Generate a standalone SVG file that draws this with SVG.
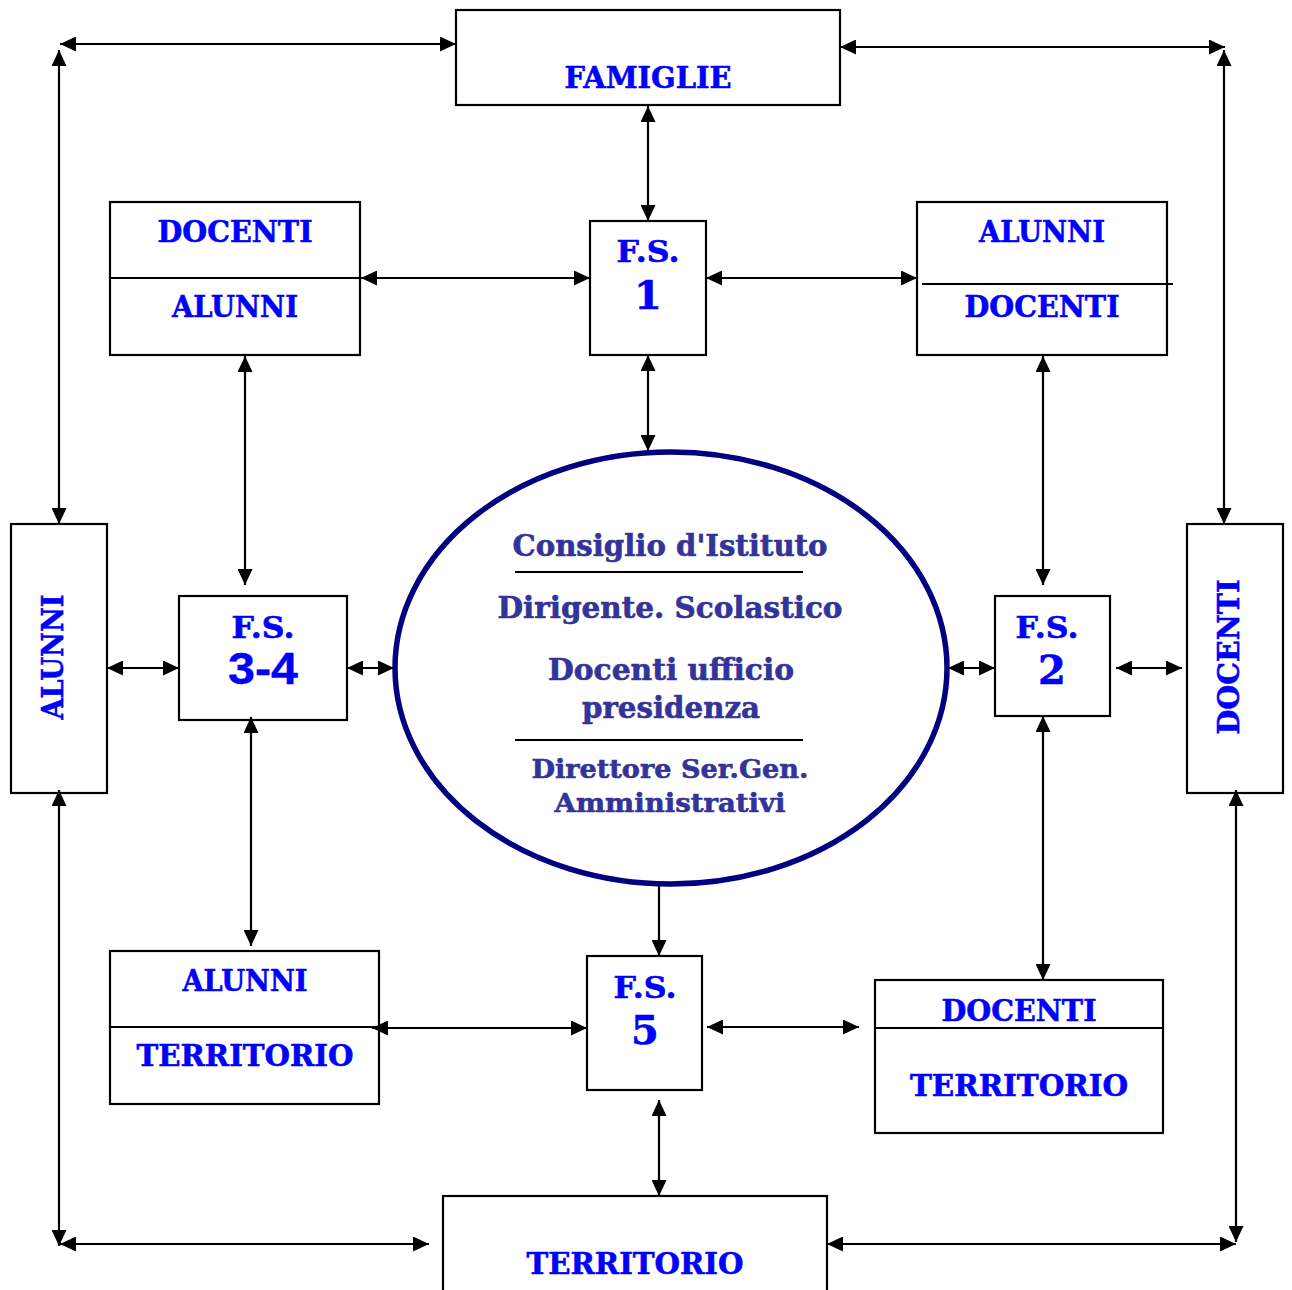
<svg xmlns="http://www.w3.org/2000/svg" width="1292" height="1290" viewBox="0 0 1292 1290">
<style>
.box{fill:#fff;stroke:#000;stroke-width:2.2}
.div{stroke:#000;stroke-width:2.2}
.t{font-family:"DejaVu Serif","Liberation Serif",serif;font-weight:bold;font-size:30px;fill:#0000ff;stroke:#0000ff;stroke-width:0.6;text-anchor:middle}
.num{font-size:40px}
.sans{font-family:"Liberation Sans",Arial,sans-serif;font-size:45px;stroke-width:0.4}
.e{font-family:"DejaVu Serif","Liberation Serif",serif;font-weight:bold;font-size:29px;fill:#333399;stroke:#333399;stroke-width:0.6;text-anchor:middle}
.es{font-size:26px}
.c line{stroke:#000;stroke-width:2.2;marker-end:url(#ah)}
.c line.b{marker-start:url(#ah)}
</style>
<defs>
<marker id="ah" viewBox="0 0 16 15" refX="16" refY="7.5" markerWidth="16" markerHeight="15" markerUnits="userSpaceOnUse" orient="auto-start-reverse">
<path d="M0,0 L16,7.5 L0,15 z" fill="#000"/>
</marker>
</defs>
<rect width="1292" height="1290" fill="#fff"/>

<g id="famiglie">
<rect class="box" x="456" y="10" width="384" height="95"/>
<text class="t" x="648" y="88" textLength="167" lengthAdjust="spacingAndGlyphs">FAMIGLIE</text>
</g>

<g id="docenti-alunni-tl">
<rect class="box" x="110" y="202" width="250" height="153"/>
<line class="div" x1="110" y1="278" x2="360" y2="278"/>
<text class="t" x="235" y="242" textLength="155" lengthAdjust="spacingAndGlyphs">DOCENTI</text>
<text class="t" x="235" y="317" textLength="126" lengthAdjust="spacingAndGlyphs">ALUNNI</text>
</g>

<g id="fs1">
<rect class="box" x="590" y="221" width="116" height="134"/>
<text class="t" x="648" y="262" textLength="63" lengthAdjust="spacingAndGlyphs">F.S.</text>
<text class="t num" x="648" y="309">1</text>
</g>

<g id="alunni-docenti-tr">
<rect class="box" x="917" y="202" width="250" height="153"/>
<line class="div" x1="922" y1="284" x2="1173" y2="284"/>
<text class="t" x="1042" y="242" textLength="126" lengthAdjust="spacingAndGlyphs">ALUNNI</text>
<text class="t" x="1042" y="317" textLength="155" lengthAdjust="spacingAndGlyphs">DOCENTI</text>
</g>

<g id="alunni-v">
<rect class="box" x="11" y="524" width="96" height="269"/>
<text class="t" transform="translate(63,657) rotate(-90)" x="0" y="0" textLength="125" lengthAdjust="spacingAndGlyphs">ALUNNI</text>
</g>

<g id="fs34">
<rect class="box" x="179" y="596" width="168" height="124"/>
<text class="t" x="263" y="638" textLength="63" lengthAdjust="spacingAndGlyphs">F.S.</text>
<text class="t sans" x="263" y="684" textLength="70" lengthAdjust="spacingAndGlyphs">3-4</text>
</g>

<g id="centro">
<ellipse cx="671" cy="668" rx="276" ry="216" fill="#fff" stroke="#000080" stroke-width="5.5"/>
<text class="e" x="670" y="556" textLength="315" lengthAdjust="spacingAndGlyphs">Consiglio d'Istituto</text>
<line class="div" x1="515" y1="572" x2="803" y2="572"/>
<text class="e" x="670" y="618" textLength="345" lengthAdjust="spacingAndGlyphs">Dirigente. Scolastico</text>
<text class="e" x="671" y="680" textLength="246" lengthAdjust="spacingAndGlyphs">Docenti ufficio</text>
<text class="e" x="671" y="718" textLength="178" lengthAdjust="spacingAndGlyphs">presidenza</text>
<line class="div" x1="515" y1="740" x2="803" y2="740"/>
<text class="e es" x="670" y="778" textLength="277" lengthAdjust="spacingAndGlyphs">Direttore Ser.Gen.</text>
<text class="e es" x="670" y="812" textLength="231" lengthAdjust="spacingAndGlyphs">Amministrativi</text>
</g>

<g id="fs2">
<rect class="box" x="995" y="596" width="115" height="120"/>
<text class="t" x="1047" y="638" textLength="63" lengthAdjust="spacingAndGlyphs">F.S.</text>
<text class="t num" x="1052" y="684">2</text>
</g>

<g id="docenti-v">
<rect class="box" x="1187" y="524" width="96" height="269"/>
<text class="t" transform="translate(1239,657) rotate(-90)" x="0" y="0" textLength="155" lengthAdjust="spacingAndGlyphs">DOCENTI</text>
</g>

<g id="alunni-territorio-bl">
<rect class="box" x="110" y="951" width="269" height="153"/>
<line class="div" x1="110" y1="1027" x2="379" y2="1027"/>
<text class="t" x="245" y="991" textLength="125" lengthAdjust="spacingAndGlyphs">ALUNNI</text>
<text class="t" x="245" y="1066" textLength="217" lengthAdjust="spacingAndGlyphs">TERRITORIO</text>
</g>

<g id="fs5">
<rect class="box" x="587" y="956" width="115" height="134"/>
<text class="t" x="645" y="998" textLength="63" lengthAdjust="spacingAndGlyphs">F.S.</text>
<text class="t num" x="645" y="1044">5</text>
</g>

<g id="docenti-territorio-br">
<rect class="box" x="875" y="980" width="288" height="153"/>
<line class="div" x1="875" y1="1028" x2="1163" y2="1028"/>
<text class="t" x="1019" y="1021" textLength="155" lengthAdjust="spacingAndGlyphs">DOCENTI</text>
<text class="t" x="1019" y="1096" textLength="218" lengthAdjust="spacingAndGlyphs">TERRITORIO</text>
</g>

<g id="territorio">
<rect class="box" x="443" y="1196" width="384" height="110"/>
<text class="t" x="635" y="1274" textLength="217" lengthAdjust="spacingAndGlyphs">TERRITORIO</text>
</g>

<g id="connectors" class="c">
<line class="b" x1="60" y1="44" x2="456" y2="44"/>
<line class="b" x1="59" y1="50" x2="59" y2="524"/>
<line class="b" x1="840" y1="47" x2="1225" y2="47"/>
<line class="b" x1="1224" y1="50" x2="1224" y2="524"/>
<line class="b" x1="648" y1="106" x2="648" y2="221"/>
<line class="b" x1="361" y1="278" x2="590" y2="278"/>
<line class="b" x1="706" y1="278" x2="917" y2="278"/>
<line class="b" x1="648" y1="355" x2="648" y2="451"/>
<line class="b" x1="245" y1="356" x2="245" y2="585"/>
<line class="b" x1="1043" y1="356" x2="1043" y2="585"/>
<line class="b" x1="107" y1="668" x2="179" y2="668"/>
<line class="b" x1="347" y1="668" x2="394" y2="668"/>
<line class="b" x1="948" y1="668" x2="995" y2="668"/>
<line class="b" x1="1116" y1="668" x2="1182" y2="668"/>
<line class="b" x1="251" y1="717" x2="251" y2="946"/>
<line class="b" x1="1043" y1="716" x2="1043" y2="980"/>
<line x1="659" y1="885" x2="659" y2="956"/>
<line class="b" x1="372" y1="1028" x2="587" y2="1028"/>
<line class="b" x1="707" y1="1027" x2="859" y2="1027"/>
<line class="b" x1="659" y1="1100" x2="659" y2="1196"/>
<line class="b" x1="59" y1="790" x2="59" y2="1246"/>
<line class="b" x1="60" y1="1244" x2="429" y2="1244"/>
<line class="b" x1="827" y1="1244" x2="1236" y2="1244"/>
<line class="b" x1="1236" y1="790" x2="1236" y2="1242"/>
</g>
</svg>
